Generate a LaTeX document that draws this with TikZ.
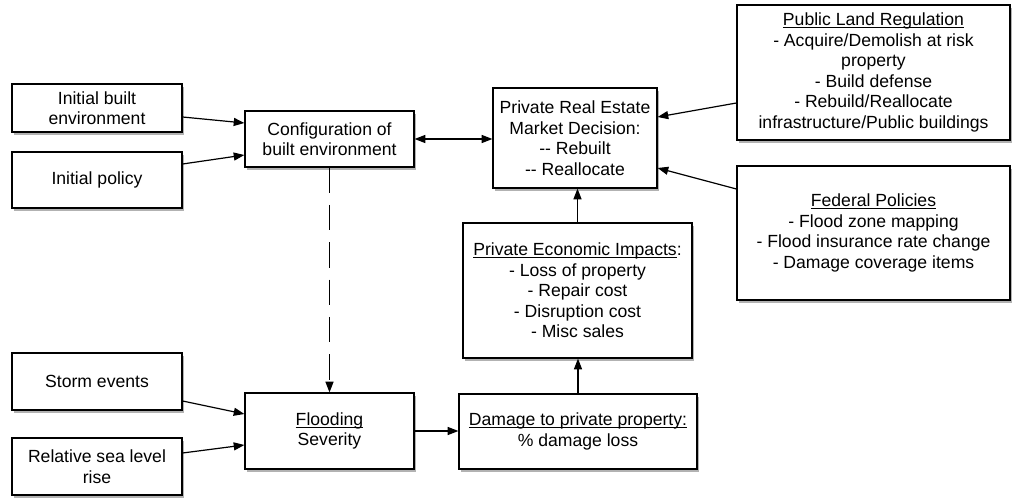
\documentclass[tikz,border=0pt]{standalone}
\usepackage{fontspec}
\setmainfont{Liberation Sans}
\usepackage{tikz}
\usetikzlibrary{calc, positioning, arrows.meta, shadows}
\newcommand{\undl}[1]{\setbox0\hbox{#1}\rlap{\rule[-1.8pt]{\wd0}{0.6pt}}\box0}

\begin{document}
\begin{tikzpicture}
              [x=0.75pt, y=-0.75pt,
               blk/.style={draw, line width=0.9pt, fill=white, align=center, inner sep=2pt,
                           font=\fontsize{13.2}{15.4}\selectfont,
                           drop shadow={shadow xshift=1.5pt, shadow yshift=-2.5pt, opacity=0.3, fill=black}},
               arr/.style={-{Triangle[length=8pt, width=6pt]}, line width=0.9pt}]
              \useasboundingbox (0,0) rectangle (1018,499);
              % nodes %
              \node[blk, minimum width=127.5pt, minimum height=36pt] (built) at (97,108) {Initial built\\environment};
              \node[blk, minimum width=127.5pt, minimum height=42pt] (policy) at (97,180) {Initial policy};
              \node[blk, minimum width=126.75pt, minimum height=42pt] (config) at (329.5,139) {Configuration of\\built environment};
              \node[blk, minimum width=123pt, minimum height=75pt] (market) at (575,138) {Private Real Estate\\Market Decision:\\-{}- Rebuilt\\-{}- Reallocate};
              \node[blk, minimum width=204.75pt, minimum height=101.25pt] (publand) at (873.5,72.5) {\undl{Public Land Regulation}\\- Acquire/Demolish at risk\\property\\- Build defense\\- Rebuild/Reallocate\\infrastructure/Public buildings};
              \node[blk, minimum width=204.75pt, minimum height=100.5pt] (federal) at (873.5,233) {\undl{Federal Policies}\\- Flood zone mapping\\- Flood insurance rate change\\- Damage coverage items};
              \node[blk, minimum width=171.75pt, minimum height=101.25pt] (econ) at (577.5,290.5) {\undl{Private Economic Impacts}:\\- Loss of property\\- Repair cost\\- Disruption cost\\- Misc sales};
              \node[blk, minimum width=178.5pt, minimum height=56.25pt] (damage) at (578,431.5) {\undl{Damage to private property:}\\\% damage loss};
              \node[blk, minimum width=127.5pt, minimum height=42.75pt] (storm) at (97,381.5) {Storm events};
              \node[blk, minimum width=127.5pt, minimum height=42.75pt] (sealevel) at (97,466.5) {Relative sea level\\rise};
              \node[blk, minimum width=126.75pt, minimum height=57pt] (flood) at (329.5,431) {\undl{Flooding}\\Severity};

              % edges %
              \draw[arr] ($(built.east)+(0,9)$) -- ($(config.west)+(0,-16)$);
              \draw[arr] ($(policy.east)+(0,-16)$) -- ($(config.west)+(0,16)$);
              \draw[{Triangle[length=8pt, width=6pt]}-{Triangle[length=8pt, width=6pt]}, line width=0.9pt] (config.east) -- (config.east -| market.west);
              \draw[arr] ($(publand.west)+(0,30.5)$) -- ($(market.east)+(0,-21)$);
              \draw[arr] ($(federal.west)+(0,-44)$) -- ($(market.east)+(0,30)$);
              \draw[arr] (econ.north) -- (econ.north |- market.south);
              \draw[arr] (damage.north) -- (damage.north |- econ.south);
              \draw[arr] (flood.east) -- (flood.east -| damage.west);
              \draw[arr] ($(storm.east)+(0,19.5)$) -- ($(flood.west)+(0,-17)$);
              \draw[arr] ($(sealevel.east)+(0,-13.5)$) -- ($(flood.west)+(0,14)$);
              \draw[arr, dash pattern=on 19pt off 9pt] (config.south) -- (flood.north);
\end{tikzpicture}
\end{document}
